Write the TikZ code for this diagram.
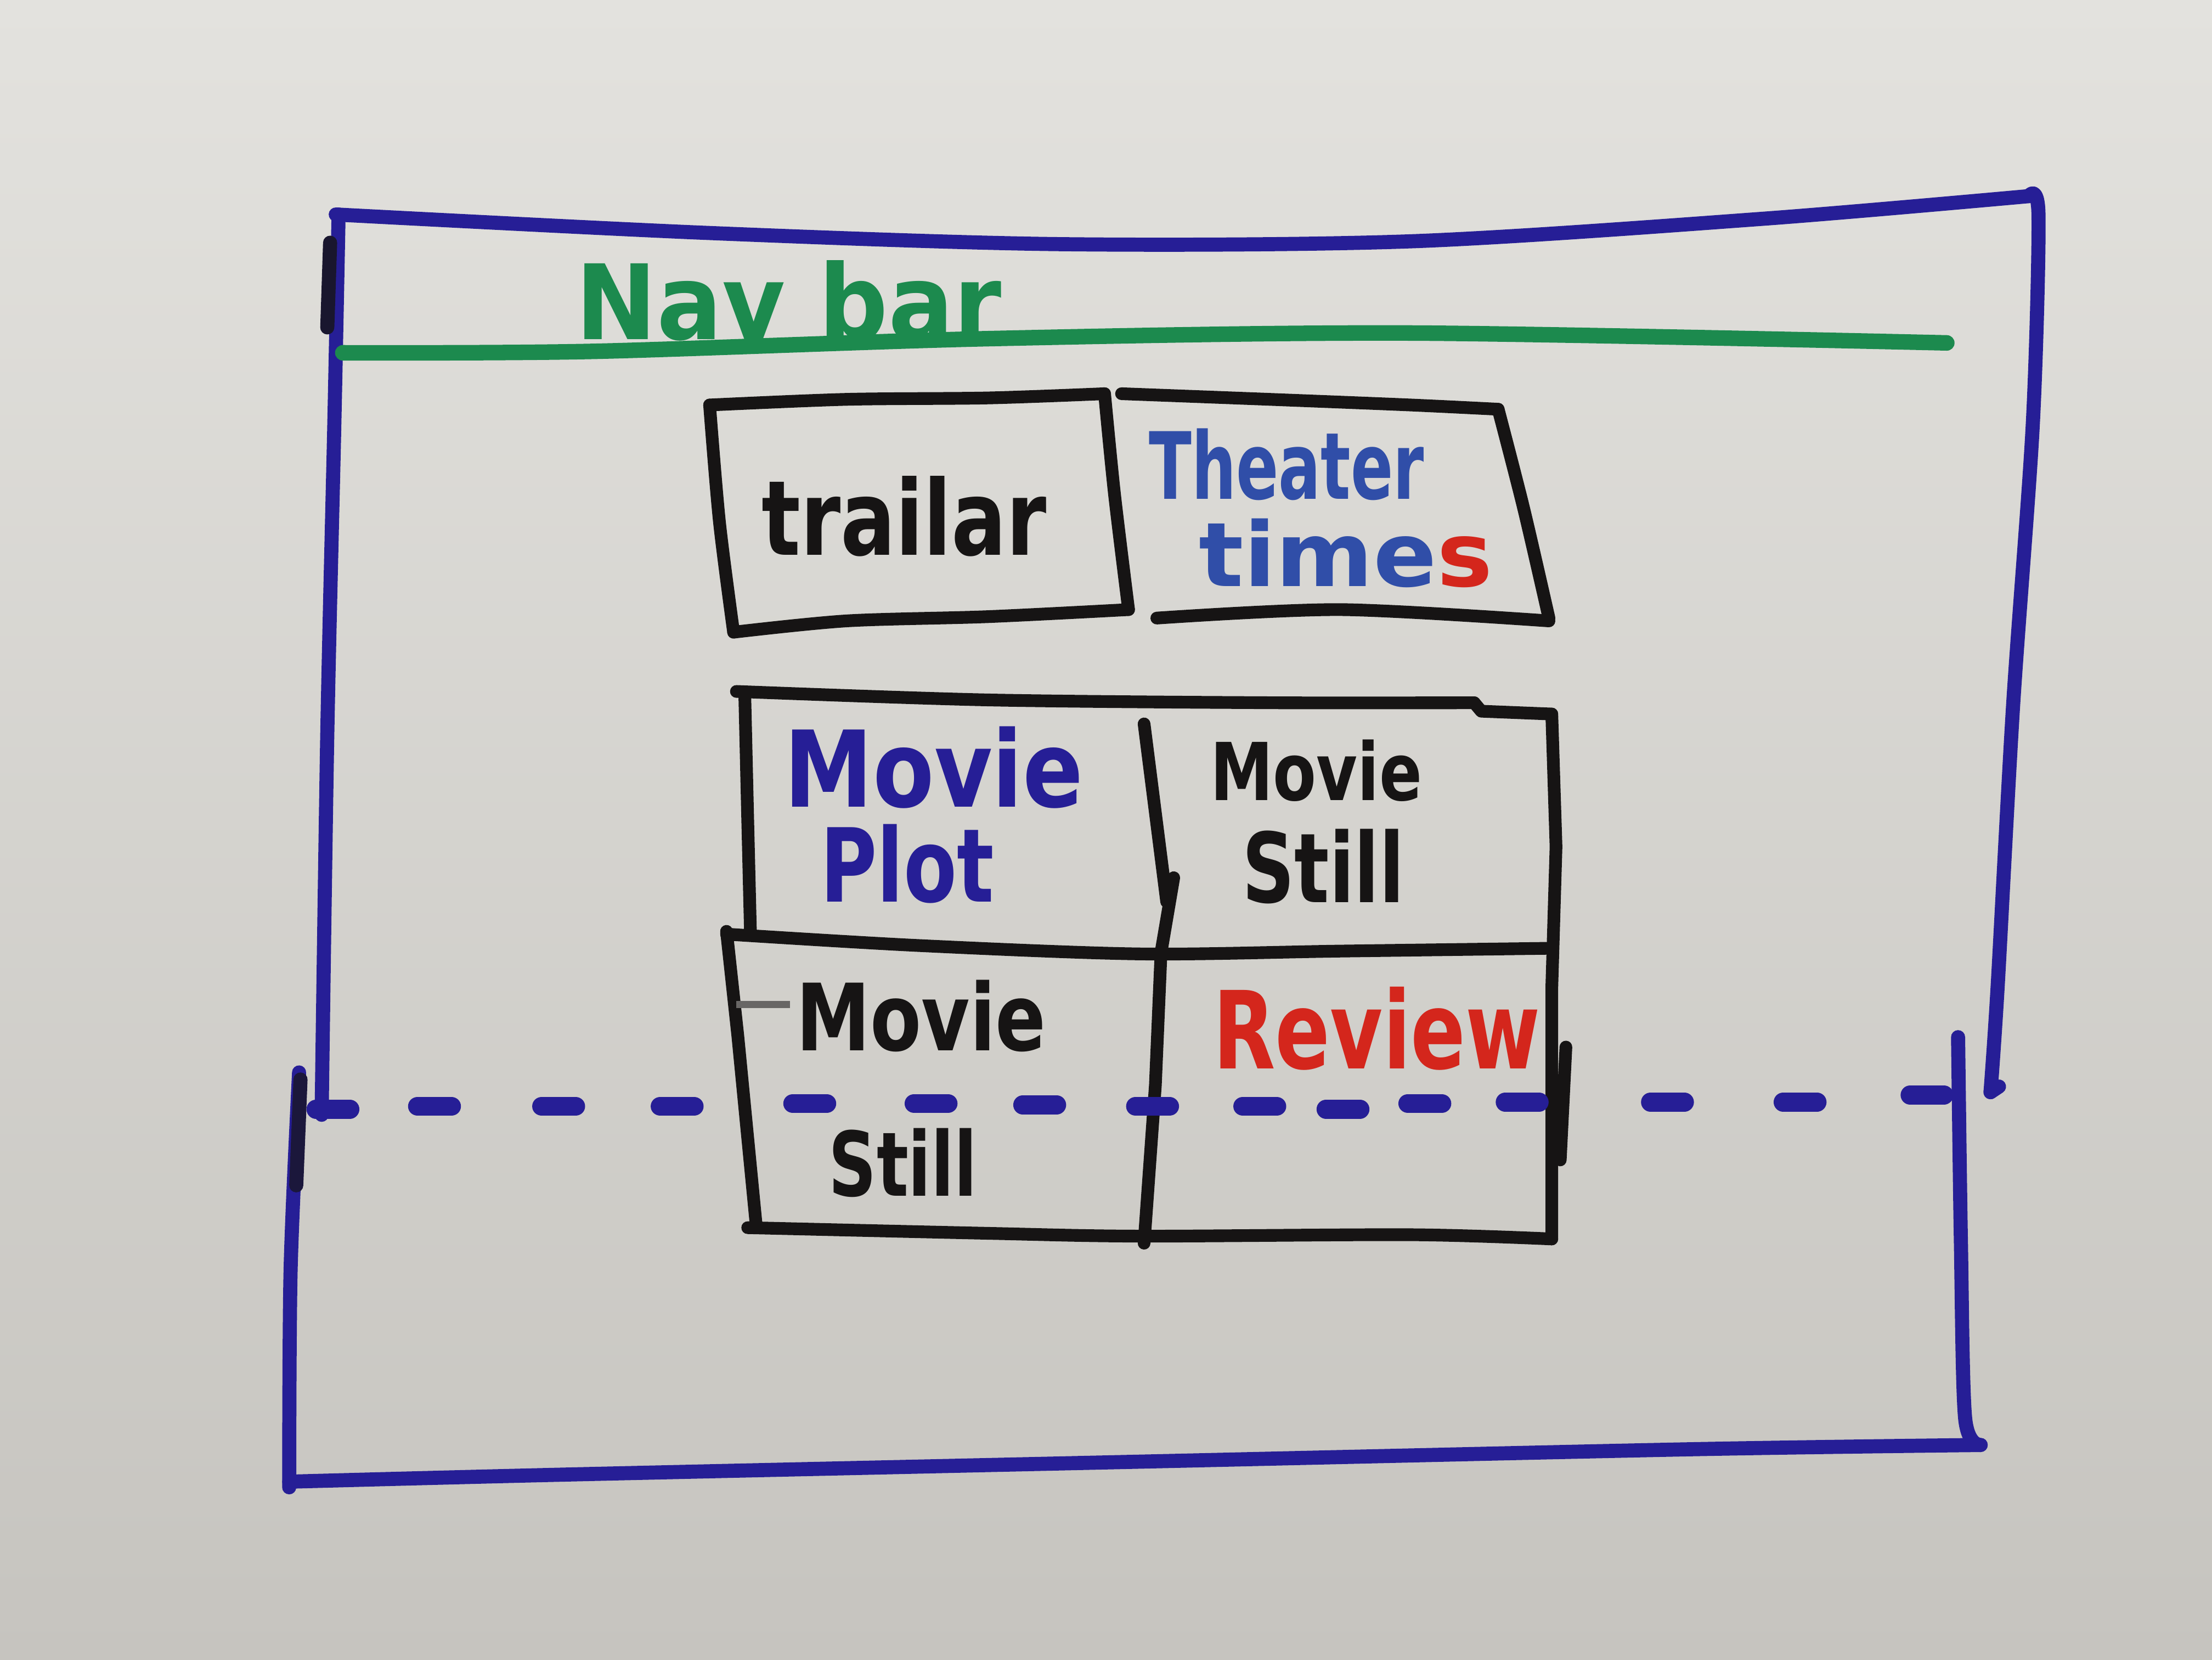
\documentclass[tikz,border=0pt]{standalone}
\usepackage{fontspec}
\usepackage{graphicx}
\setmainfont{DejaVu Sans}
\definecolor{board}{RGB}{227,226,222}
\definecolor{boardlow}{RGB}{198,196,191}
\definecolor{navy}{RGB}{38,30,150}
\definecolor{royal}{RGB}{48,78,168}
\definecolor{marker}{RGB}{22,20,20}
\definecolor{mgreen}{RGB}{28,138,78}
\definecolor{mred}{RGB}{212,38,28}
% marker lettering: a word squeezed into a box of given width and height
\newcommand\ink[3]{\resizebox{#1}{#2}{\bfseries #3}}
\tikzset{
  bluepen/.style={draw=navy, line width=1.0mm, line cap=round, line join=round},
  blackpen/.style={draw=marker, line width=0.9mm, line cap=round, line join=round},
  greenpen/.style={draw=mgreen, line width=1.1mm, line cap=round},
  dashpen/.style={draw=navy, line width=1.35mm, line cap=round},
  word/.style={inner sep=0pt, anchor=center}
}
\begin{document}
\begin{tikzpicture}[x=0.1mm, y=-0.1mm]
  % whiteboard
  \shade[top color=board, bottom color=boardlow] (0,0) rectangle (1568,1176);
  \useasboundingbox (0,0) rectangle (1568,1176);

  % page frame
  \draw[bluepen] plot[smooth] coordinates {(238,152) (500,165) (750,173) (1000,171) (1250,155) (1438,139)};
  \draw[bluepen] plot[smooth] coordinates {(1438,139) (1445,152) (1441,300) (1427,500) (1416,700) (1411,774)};
  \draw[bluepen] (1411,774) -- (1417,770);
  \draw[bluepen] plot[smooth] coordinates {(1388,735) (1390,880) (1393,1005) (1404,1024)};
  \draw[bluepen] plot[smooth] coordinates {(1404,1024) (1200,1027) (800,1036) (400,1045) (205,1050)};
  \draw[bluepen] plot[smooth] coordinates {(205,1054) (206,900) (212,760)};
  \draw[bluepen] plot[smooth] coordinates {(228,790) (232,520) (237,300) (240,152)};
  \draw[draw=marker!80!navy, line width=1.0mm, line cap=round] (234,172) -- (232,232);
  \draw[draw=marker!70!navy, line width=1.0mm, line cap=round] (213,765) -- (210,840);

  % navigation bar
  \draw[greenpen] plot[smooth] coordinates {(243,250) (420,249) (700,240) (1000,236) (1380,243)};
  \node[word, text=mgreen] (navbar) at (559,213) {\ink{30.2mm}{5.6mm}{Nav bar}};

  % trailer box
  \draw[blackpen] plot[smooth] coordinates {(503,287) (600,283) (700,282) (783,279)};
  \draw[blackpen] plot[smooth] coordinates {(783,279) (790,350) (800,432)};
  \draw[blackpen] plot[smooth] coordinates {(520,448) (600,440) (700,437) (800,432)};
  \draw[blackpen] plot[smooth] coordinates {(503,287) (510,370) (520,448)};
  \node[word, text=marker] (trailer) at (641,366) {\ink{20.2mm}{5.6mm}{trailar}};

  % theater times box
  \draw[blackpen] plot[smooth] coordinates {(795,279) (900,283) (1000,287) (1062,290)};
  \draw[blackpen] plot[smooth] coordinates {(1062,290) (1080,360) (1098,438)};
  \draw[blackpen] plot[smooth] coordinates {(820,438) (950,432) (1098,440)};
  \node[word, text=royal] (theater) at (912,329) {\ink{19.5mm}{5.0mm}{Theater}};
  \node[word] (times) at (954,392) {\ink{20.8mm}{4.8mm}{\color{royal}time\color{mred}s}};

  % content grid
  \draw[blackpen] plot[smooth] coordinates {(522,490) (700,496) (900,498) (1045,498)};
  \draw[blackpen] (1045,498) -- (1050,504) -- (1100,506);
  \draw[blackpen] (1100,506) -- (1103,600) -- (1100,700) -- (1100,878);
  \draw[blackpen] plot[smooth] coordinates {(530,870) (700,874) (808,876) (1000,875) (1100,878)};
  \draw[blackpen] (528,495) -- (530,580) -- (532,662);
  \draw[blackpen] (515,660) -- (523,734) -- (536,868);
  \draw[blackpen] (811,513) -- (827,639);
  \draw[blackpen] (832,622) -- (823,675) -- (819,769) -- (811,881);
  \draw[blackpen] plot[smooth] coordinates {(515,662) (650,670) (808,676) (950,674) (1100,672)};
  \draw[blackpen] (1110,742) -- (1106,822);
  \draw[draw=marker!60!board, line width=0.5mm] (522,712) -- (560,712);

  \node[word, text=navy] (plot1) at (662,544) {\ink{21.2mm}{5.7mm}{Movie}};
  \node[word, text=navy] (plot2) at (643,612) {\ink{12.3mm}{5.5mm}{Plot}};
  \node[word, text=marker] (still1a) at (933,546) {\ink{15.0mm}{4.3mm}{Movie}};
  \node[word, text=marker] (still1b) at (938,614) {\ink{11.5mm}{5.2mm}{Still}};
  \node[word, text=marker] (still2a) at (653,720) {\ink{17.7mm}{5.0mm}{Movie}};
  \node[word, text=marker] (still2b) at (640,824) {\ink{10.5mm}{4.8mm}{Still}};
  \node[word, text=mred] (review) at (976,729) {\ink{23.2mm}{5.8mm}{Review}};

  % fold line
  \foreach \x/\y in {236/786, 308/784, 396/784, 480/784, 574/782, 660/782, 737/783,
                     817/784, 893/784, 952/786, 1010/782, 1079/781, 1182/781, 1276/781, 1366/776}
    \draw[dashpen] (\x-12,\y) -- (\x+12,\y);
\end{tikzpicture}
\end{document}
